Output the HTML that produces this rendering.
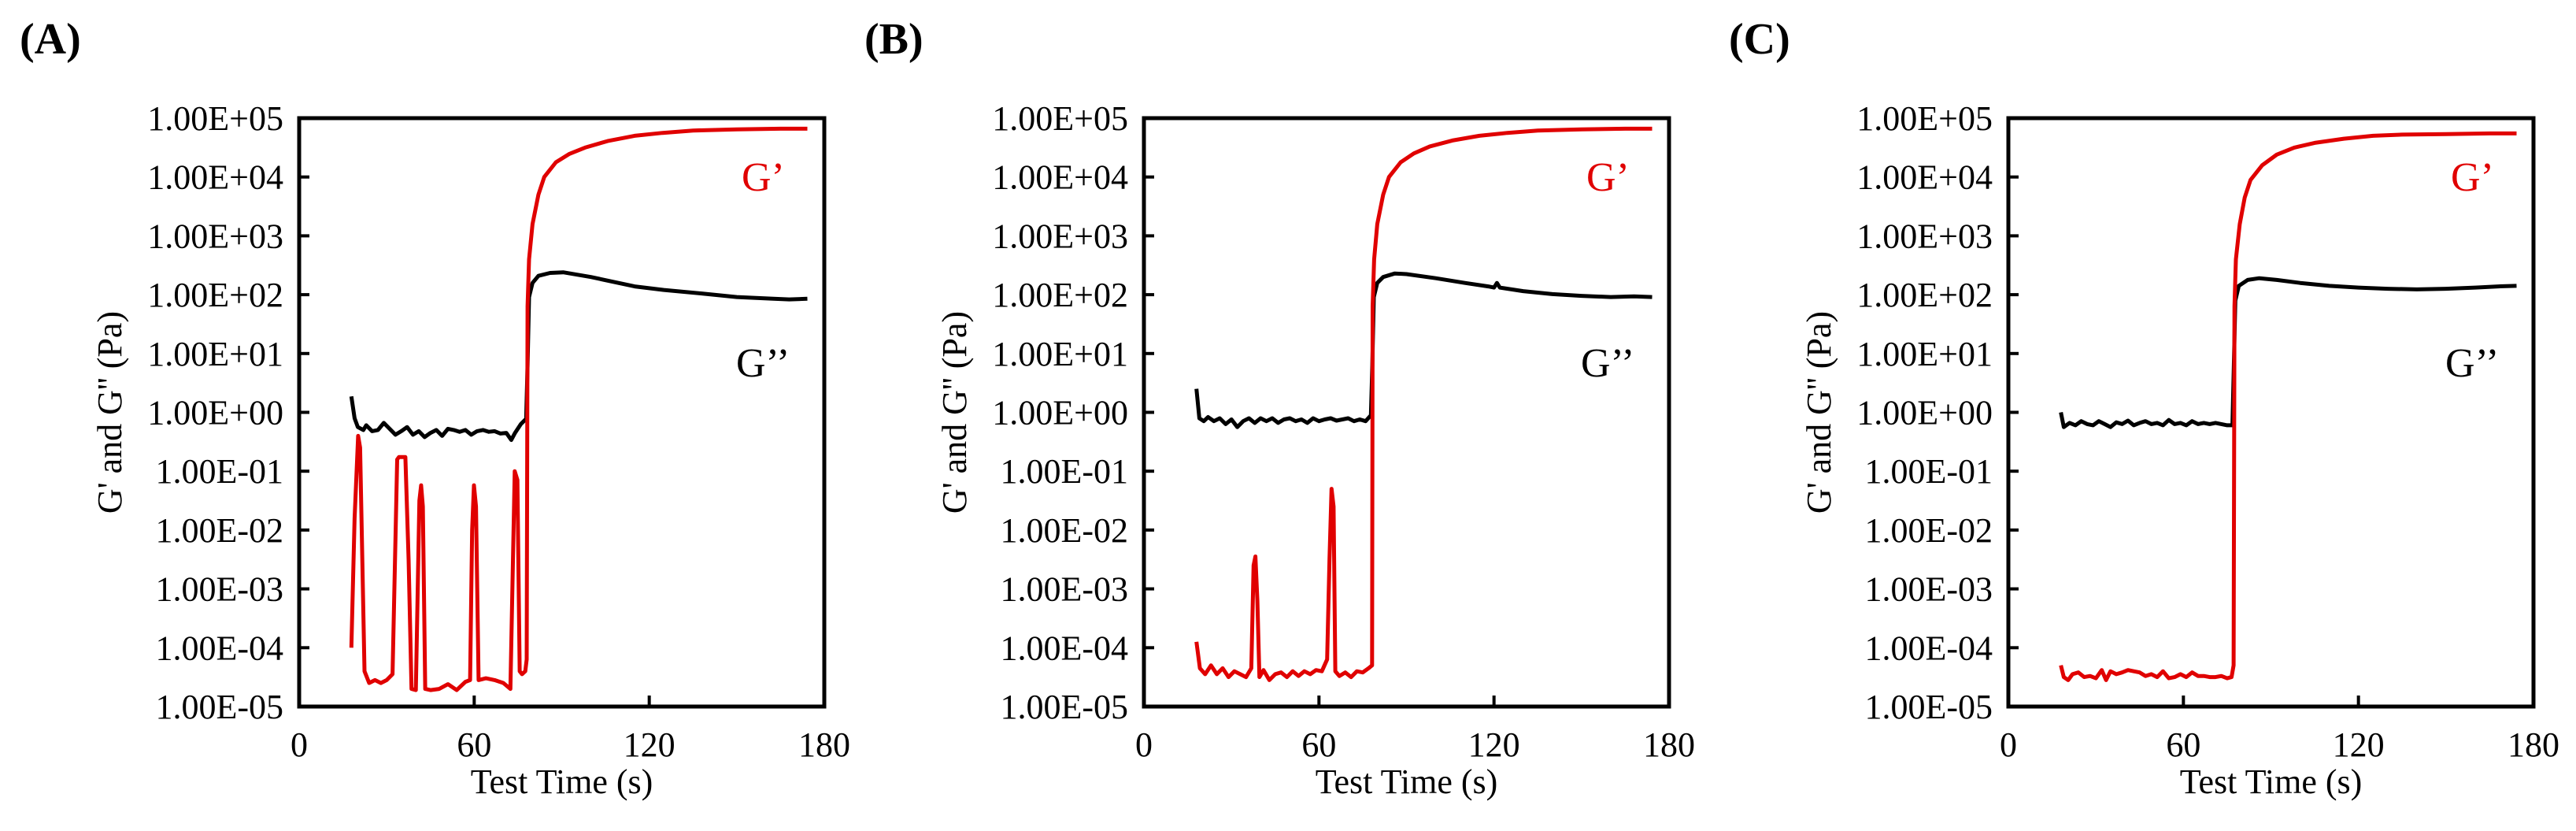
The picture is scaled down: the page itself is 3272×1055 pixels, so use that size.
<!DOCTYPE html>
<html><head><meta charset="utf-8"><style>
html,body{margin:0;padding:0;background:#fff;}
svg{display:block;font-family:"Liberation Serif",serif;}
</style></head><body>
<svg id="fig" width="3272" height="1055" viewBox="0 0 3272 1055"></svg>
<script>
const xTicks=[0,60,120,180];
const yTickExps=[5,4,3,2,1,0,-1,-2,-3,-4,-5];
const yTickLabels=["1.00E+05","1.00E+04","1.00E+03","1.00E+02","1.00E+01","1.00E+00","1.00E-01","1.00E-02","1.00E-03","1.00E-04","1.00E-05"];
const panelLetters=["(A)","(B)","(C)"];
// [time s, log10(Pa)]
const aStorage=[[17.9,-4.0],[19,-1.8],[20.2,-0.4],[20.9,-0.6],[22.4,-4.4],[24,-4.6],[26,-4.55],[28,-4.6],[30,-4.55],[32,-4.45],[33.6,-0.8],[34.2,-0.76],[36.4,-0.76],[37.5,-2.5],[38.5,-4.7],[40,-4.72],[41.2,-1.5],[41.8,-1.24],[42.4,-1.6],[43.2,-4.7],[45,-4.72],[48,-4.7],[51,-4.62],[54,-4.72],[57,-4.58],[58.6,-4.55],[59.3,-2.0],[59.9,-1.24],[60.6,-1.6],[61.5,-4.55],[64,-4.52],[67,-4.55],[70,-4.6],[72.4,-4.7],[73.9,-1.0],[74.8,-1.15],[75.6,-4.4],[76.4,-4.45],[77.5,-4.4],[78,-4.2],[78.3,1.8],[78.8,2.6],[80,3.2],[82,3.7],[84,4.0],[88,4.25],[92.5,4.39],[98,4.5],[105.7,4.61],[115,4.7],[124.6,4.75],[135,4.79],[150,4.81],[165,4.82],[174.2,4.82]];
const aLoss=[[17.9,0.27],[19,-0.1],[20.1,-0.25],[22,-0.3],[23,-0.22],[25,-0.32],[27,-0.3],[29,-0.18],[31,-0.28],[33,-0.38],[35,-0.32],[37,-0.25],[39,-0.38],[41,-0.32],[43,-0.42],[45,-0.35],[47,-0.3],[49,-0.4],[51,-0.28],[53,-0.3],[55,-0.33],[57,-0.3],[59,-0.38],[61,-0.32],[63,-0.3],[65,-0.33],[67,-0.32],[69,-0.36],[71,-0.35],[72.7,-0.47],[74,-0.35],[76,-0.2],[77.8,-0.11],[78.3,0.8],[78.8,1.96],[80,2.2],[82,2.32],[86,2.37],[90.5,2.38],[100,2.3],[115,2.14],[125,2.08],[138,2.02],[150,1.96],[162.5,1.93],[168,1.92],[174.2,1.93]];
const bStorage=[[18,-3.9],[19.2,-4.35],[21,-4.45],[23,-4.3],[25,-4.45],[27,-4.35],[29,-4.5],[31,-4.4],[33,-4.45],[35,-4.5],[36.8,-4.35],[37.6,-2.6],[38.2,-2.45],[38.9,-3.2],[39.6,-4.5],[41,-4.38],[43,-4.55],[45,-4.45],[47,-4.42],[49,-4.5],[51,-4.4],[53,-4.48],[55,-4.4],[57,-4.45],[59,-4.38],[61,-4.4],[62.8,-4.2],[63.6,-2.5],[64.3,-1.3],[65,-1.6],[65.6,-4.4],[67,-4.48],[69,-4.42],[71,-4.5],[73,-4.4],[75,-4.42],[77,-4.35],[78.2,-4.3],[78.4,1.8],[78.9,2.6],[80,3.2],[82,3.7],[84,4.0],[88,4.25],[92.5,4.4],[98,4.52],[105.7,4.62],[115,4.7],[124.6,4.75],[135,4.79],[150,4.81],[165,4.82],[174.2,4.82]];
const bLoss=[[18,0.4],[19,-0.1],[20.5,-0.15],[22,-0.08],[24,-0.15],[26,-0.1],[28,-0.2],[30,-0.12],[32,-0.25],[34,-0.15],[36,-0.1],[38,-0.18],[40,-0.1],[42,-0.15],[44,-0.1],[46,-0.18],[48,-0.12],[50,-0.1],[52,-0.15],[54,-0.12],[56,-0.18],[58,-0.1],[60,-0.15],[62,-0.12],[64,-0.1],[66,-0.14],[68,-0.12],[70,-0.1],[72,-0.15],[74,-0.12],[76,-0.15],[77.8,-0.05],[78.3,0.8],[78.8,1.96],[80,2.2],[82,2.3],[86,2.36],[90,2.35],[100,2.28],[110,2.2],[118,2.14],[120,2.12],[121,2.2],[122,2.12],[130,2.06],[140,2.01],[150,1.98],[160,1.96],[168,1.97],[174.2,1.96]];
const cStorage=[[18,-4.3],[19,-4.5],[20.5,-4.55],[22,-4.45],[24,-4.42],[26,-4.5],[28,-4.48],[30,-4.52],[32,-4.38],[33.5,-4.55],[35,-4.4],[37,-4.45],[39,-4.42],[41,-4.38],[43,-4.4],[45,-4.42],[47,-4.48],[49,-4.45],[51,-4.5],[53,-4.4],[55,-4.52],[57,-4.5],[59,-4.45],[61,-4.5],[63,-4.42],[65,-4.48],[67,-4.48],[69,-4.5],[71,-4.5],[73,-4.48],[75,-4.52],[76.5,-4.5],[77.2,-4.3],[77.5,1.8],[78,2.6],[79.3,3.2],[81,3.65],[83,3.95],[87,4.2],[92,4.38],[98,4.5],[105,4.58],[115,4.65],[125,4.7],[135,4.72],[150,4.73],[165,4.74],[174.2,4.74]];
const cLoss=[[18,0.0],[19,-0.25],[21,-0.18],[23,-0.22],[25,-0.15],[27,-0.2],[29,-0.22],[31,-0.15],[33,-0.2],[35,-0.25],[37,-0.17],[39,-0.2],[41,-0.14],[43,-0.22],[45,-0.18],[47,-0.15],[49,-0.2],[51,-0.18],[53,-0.22],[55,-0.13],[57,-0.2],[59,-0.18],[61,-0.22],[63,-0.15],[65,-0.2],[67,-0.18],[69,-0.2],[71,-0.18],[73,-0.2],[75,-0.22],[76.8,-0.22],[77.3,0.8],[77.8,1.9],[79,2.15],[82,2.25],[86,2.28],[92,2.25],[100,2.2],[110,2.15],[120,2.12],[130,2.1],[140,2.09],[150,2.1],[160,2.12],[168,2.14],[174.2,2.15]];
const storageSeries=[aStorage,bStorage,cStorage];
const lossSeries=[aLoss,bLoss,cLoss];

const NS="http://www.w3.org/2000/svg";
const svg=document.getElementById("fig");
const panelLeft=[380,1453,2551];
const plotW=667, plotTop=150, plotBot=897;
function mk(tag,attrs,parent){const e=document.createElementNS(NS,tag);for(const k in attrs)e.setAttribute(k,attrs[k]);(parent||svg).appendChild(e);return e;}

for(let p=0;p<3;p++){
  const L=panelLeft[p];
  const xS=t=>L+t/180*plotW;
  const yS=v=>plotBot-(v+5)/10*(plotBot-plotTop);
  const g=mk("g",{});
  
  
  const lt=mk("text",{x:L-355,y:68,"font-size":56,"font-weight":"bold"},g);
  lt.textContent=panelLetters[p];
  
  
  for(let i=0;i<yTickExps.length;i++){
    const y=yS(yTickExps[i]);
    const tk=mk("line",{x1:L,x2:L+13,y1:y,y2:y,stroke:"#000","stroke-width":4},g);
    
    
    const tl=mk("text",{x:L-20,y:y+15,"font-size":44,"text-anchor":"end"},g);
    tl.textContent=yTickLabels[i];
    
    
  }
  for(const t of xTicks){
    const x=xS(t);
    const tk=mk("line",{x1:x,x2:x,y1:plotBot,y2:plotBot-14,stroke:"#000","stroke-width":4},g);
    
    
    const tl=mk("text",{x:x,y:plotBot+63,"font-size":44,"text-anchor":"middle"},g);
    tl.textContent=String(t);
    
    
  }
  const xt=mk("text",{x:L+plotW/2,y:plotBot+110,"font-size":44,"text-anchor":"middle"},g);
  xt.textContent="Test Time (s)";
  
  
  const yt=mk("text",{x:0,y:0,"font-size":44,"text-anchor":"middle",transform:`translate(${L-226},${(plotTop+plotBot)/2}) rotate(-90)`},g);
  yt.textContent="G' and G'' (Pa)";
  
  
  const mkLine=(data,color,name)=>{
    const d=data.map((pt,i)=>(i?"L":"M")+xS(pt[0]).toFixed(1)+","+yS(pt[1]).toFixed(1)).join("");
    const pa=mk("path",{d:d,fill:"none",stroke:color,"stroke-width":5,"stroke-linejoin":"round"},g);
    
    
  };
  mkLine(lossSeries[p],"#000","loss-modulus-line");
  mkLine(storageSeries[p],"#e00000","storage-modulus-line");
  const fr=mk("rect",{x:L,y:plotTop,width:plotW,height:plotBot-plotTop,fill:"none",stroke:"#000","stroke-width":5},g);
  
  
  const g1=mk("text",{x:L+plotW-105,y:242,"font-size":52,fill:"#e00000"},g);
  g1.textContent="G’";
  
  
  const g2=mk("text",{x:L+plotW-112,y:478,"font-size":52,fill:"#000"},g);
  g2.textContent="G’’";
  
  
}
</script>
</body></html>
